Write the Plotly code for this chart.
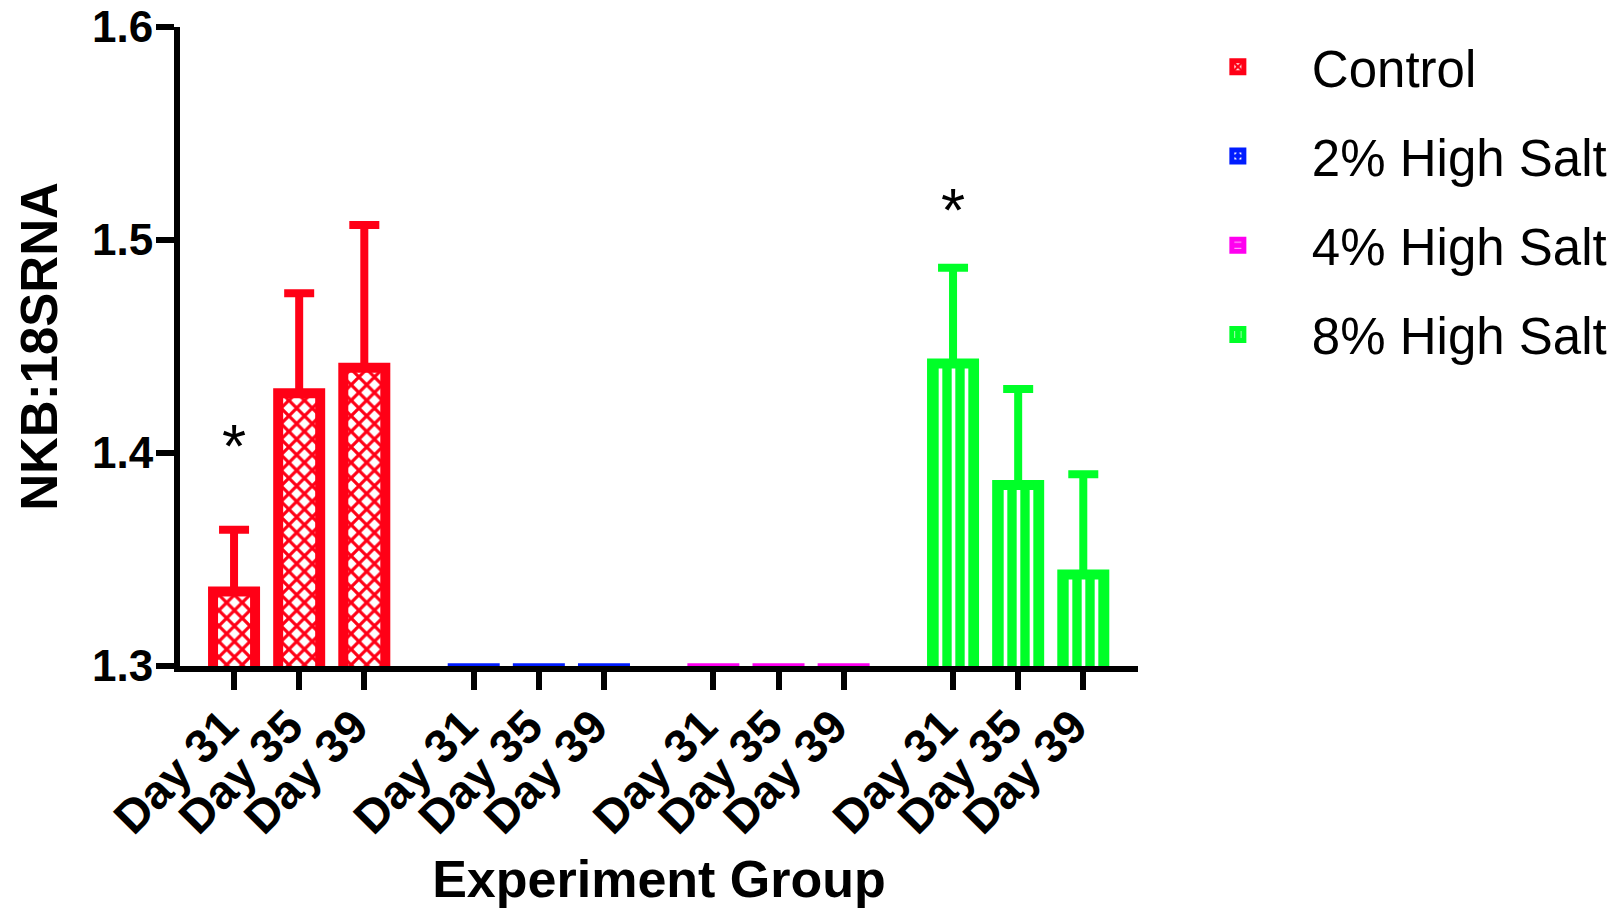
import plotly.graph_objects as go

# ---------------- data ----------------
groups = ["Control", "2% High Salt", "4% High Salt", "8% High Salt"]
days = ["Day 31", "Day 35", "Day 39"]

control_mean = [1.335, 1.428, 1.440]
control_err = [0.029, 0.047, 0.067]

salt2_mean = [1.299, 1.299, 1.299]
salt2_err = [None, None, None]

salt4_mean = [1.299, 1.299, 1.299]
salt4_err = [None, None, None]

salt8_mean = [1.442, 1.385, 1.343]
salt8_err = [0.045, 0.045, 0.047]

y_ticks = [1.3, 1.4, 1.5, 1.6]
y_tick_labels = ["1.3", "1.4", "1.5", "1.6"]

# significance marks (group, day)
significant = [("Control", "Day 31"), ("8% High Salt", "Day 31")]

# ---------------- styling ----------------
GROUP_STEP = 3.68
BAR_W = 0.645
FONT = "Liberation Sans, Arial, sans-serif"

styles = {
    "Control": dict(color="rgb(255,0,22)", shape="x", fg="rgb(255,0,22)", bg="white", size=11, solidity=0.5),
    "2% High Salt": dict(color="rgb(0,28,255)", shape=".", fg="white", bg="rgb(0,28,255)", size=14, solidity=0.35),
    "4% High Salt": dict(color="rgb(255,0,240)", shape="-", fg="white", bg="rgb(255,0,240)", size=12, solidity=0.3),
    "8% High Salt": dict(color="rgb(0,255,40)", shape="|", fg="white", bg="rgb(0,255,40)", size=13, solidity=0.28),
}

series = {
    "Control": (control_mean, control_err),
    "2% High Salt": (salt2_mean, salt2_err),
    "4% High Salt": (salt4_mean, salt4_err),
    "8% High Salt": (salt8_mean, salt8_err),
}

fig = go.Figure()
tickvals, ticktext = [], []
positions = {}
for g, name in enumerate(groups):
    means, errs = series[name]
    st = styles[name]
    xs = [g * GROUP_STEP + d for d in range(len(days))]
    for d, x in enumerate(xs):
        positions[(name, days[d])] = (x, means[d] + (errs[d] or 0))
    tickvals += xs
    ticktext += [f"<b>{dname}</b>" for dname in days]
    has_err = any(e is not None for e in errs)
    fig.add_trace(go.Bar(
        x=xs, y=means, name=name, width=BAR_W, legendgroup=name,
        marker=dict(
            color=st["color"],
            line=dict(color=st["color"], width=10),
            pattern=dict(shape=st["shape"], fgcolor=st["fg"], bgcolor=st["bg"],
                         size=st["size"], solidity=st["solidity"], fillmode="replace"),
        ),
        error_y=dict(type="data", symmetric=False,
                     array=[e if e is not None else 0 for e in errs],
                     arrayminus=[0] * len(errs),
                     visible=has_err, color=st["color"], thickness=8, width=15),
    ))

star_shift = {"Control": 48, "8% High Salt": 22}
annotations = []
for name, day in significant:
    x, ytop = positions[(name, day)]
    annotations.append(dict(x=x, y=ytop, xref="x", yref="y", text="*", showarrow=False,
                            yanchor="bottom", yshift=star_shift[name],
                            font=dict(family=FONT, size=62, color="black")))

fig.update_layout(
    width=1618, height=908,
    margin=dict(l=180, r=480, t=27, b=242, autoexpand=False),
    plot_bgcolor="white", paper_bgcolor="white",
    font=dict(family=FONT, color="black"),
    barmode="overlay",
    annotations=annotations,
    legend=dict(x=1.027, xanchor="left", y=1.0, yanchor="top",
                font=dict(family=FONT, size=51, color="black"),
                itemwidth=138, traceorder="grouped", tracegroupgap=20,
                bgcolor="rgba(0,0,0,0)"),
    xaxis=dict(
        range=[-0.83, 3 * GROUP_STEP + 2 + 0.84],
        tickmode="array", tickvals=tickvals, ticktext=ticktext, tickangle=-45,
        tickfont=dict(family=FONT, size=47, color="black"),
        ticklabelshift=-10, ticklabelstandoff=-10,
        ticks="outside", ticklen=18, tickwidth=6, tickcolor="black",
        showline=True, linewidth=6, linecolor="black",
        showgrid=False, zeroline=False, automargin=False,
        title=dict(text="<b>Experiment Group</b>", font=dict(family=FONT, size=52, color="black"), standoff=38),
    ),
    yaxis=dict(
        range=[1.3, 1.6],
        tickmode="array", tickvals=y_ticks, ticktext=[f"<b>{t}</b>" for t in y_tick_labels],
        tickfont=dict(family=FONT, size=44, color="black"),
        ticklabeloverflow="allow", ticklabelstandoff=-6,
        ticks="outside", ticklen=18, tickwidth=6, tickcolor="black",
        showline=True, linewidth=6, linecolor="black",
        showgrid=False, zeroline=False, automargin=False,
        title=dict(text="<b>NKB:18SRNA</b>", font=dict(family=FONT, size=51, color="black"), standoff=20),
    ),
)

# remove the browser's default 8px body margin so the 1618x908 figure fills the window
fig.write_html("out.html", config={"displayModeBar": False},
               post_script="document.body.style.margin='0';")
